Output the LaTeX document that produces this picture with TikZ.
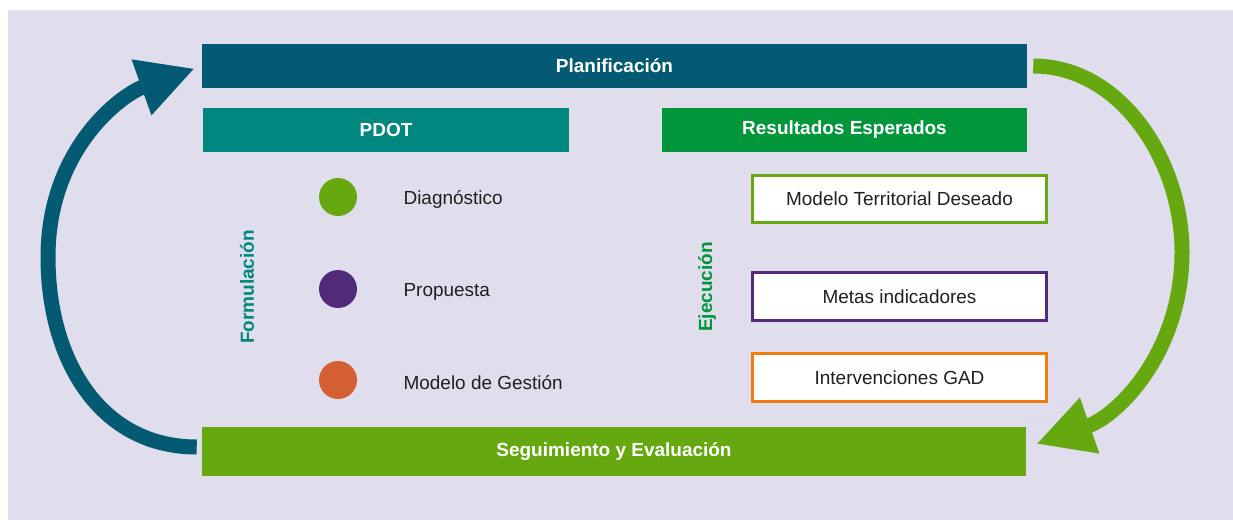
\documentclass[tikz,border=0pt]{standalone}
\usepackage{fontspec}
\setmainfont{Liberation Sans}
\usetikzlibrary{positioning, arrows.meta}

\definecolor{fondo}{RGB}{224,222,236}
\definecolor{azulpet}{RGB}{4,90,114}
\definecolor{turquesa}{RGB}{0,135,127}
\definecolor{verde}{RGB}{0,150,57}
\definecolor{verdelima}{RGB}{102,168,15}
\definecolor{morado}{RGB}{82,42,122}
\definecolor{naranja}{RGB}{211,95,51}
\definecolor{naranjab}{RGB}{240,125,14}
\definecolor{texto}{RGB}{35,31,32}

\begin{document}
\begin{tikzpicture}[x=0.02cm, y=-0.02cm,
    every node/.style={font=\fontsize{10.8}{13}\selectfont, text=texto},
    barra/.style={fill=#1, text=white, font=\fontsize{10.8}{13}\selectfont\bfseries, inner sep=0pt},
    punto/.style={circle, fill=#1, minimum size=0.76cm, inner sep=0pt},
    caja/.style={draw=#1, line width=0.06cm, fill=white, minimum width=5.88cm, minimum height=0.96cm, inner sep=0pt},
    etapa/.style={rotate=90, text=#1, font=\fontsize{10.8}{13}\selectfont\bfseries},
    ciclo/.style={line width=0.3cm, draw=#1, -{Triangle[length=1.13cm, width=1.1cm]}}]
    \useasboundingbox (0,0) rectangle (1233,520);
    \fill[fondo] (8,10) rectangle (1233,520);

    \node[barra=azulpet, minimum width=16.5cm, minimum height=0.9cm] (plan) at (614.5,66) {Planificación};
    \node[barra=turquesa, minimum width=7.32cm, minimum height=0.88cm] (pdot) at (386,130) {PDOT};
    \node[barra=verde, minimum width=7.3cm, minimum height=0.88cm] (resultados) at (844.5,130) {Resultados Esperados};
    \node[barra=verdelima, minimum width=16.48cm, minimum height=0.98cm] (seguimiento) at (614,451.5) {Seguimiento y Evaluación};

    \node[etapa=turquesa] (formulacion) at (247,287) {Formulación};
    \node[etapa=verde] (ejecucion) at (707,287) {Ejecución};

    \node[punto=verdelima] (diag) at (338,197) {};
    \node[punto=morado] (prop) at (338,289) {};
    \node[punto=naranja] (gestion) at (338,380) {};
    \node[right=0.8cm of diag, yshift=-0.05cm] (tdiag) {Diagnóstico};
    \node[right=0.8cm of prop, yshift=-0.05cm] (tprop) {Propuesta};
    \node[right=0.8cm of gestion, yshift=-0.05cm] (tgestion) {Modelo de Gestión};

    \node[caja=verdelima] (modelo) at (899.5,199) {Modelo Territorial Deseado};
    \node[caja=morado] (metas) at (899.5,296.5) {Metas indicadores};
    \node[caja=naranjab] (intervenciones) at (899.5,377.5) {Intervenciones GAD};

    % flechas del ciclo
    \coordinate (izq) at (48,257);
    \coordinate (der) at (1182,252);
    \draw[ciclo=azulpet] ([xshift=-0.1cm, yshift=0.09cm]seguimiento.west) .. controls (100,447) and (48,360) .. (izq)
        .. controls (48,150) and (120,95) .. ([xshift=-0.14cm, yshift=-0.05cm]plan.west);
    \draw[ciclo=verdelima] ([xshift=0.12cm]plan.east) .. controls (1120,66) and (1182,160) .. (der)
        .. controls (1182,350) and (1120,415) .. ([xshift=0.2cm, yshift=0.15cm]seguimiento.east);
\end{tikzpicture}
\end{document}
